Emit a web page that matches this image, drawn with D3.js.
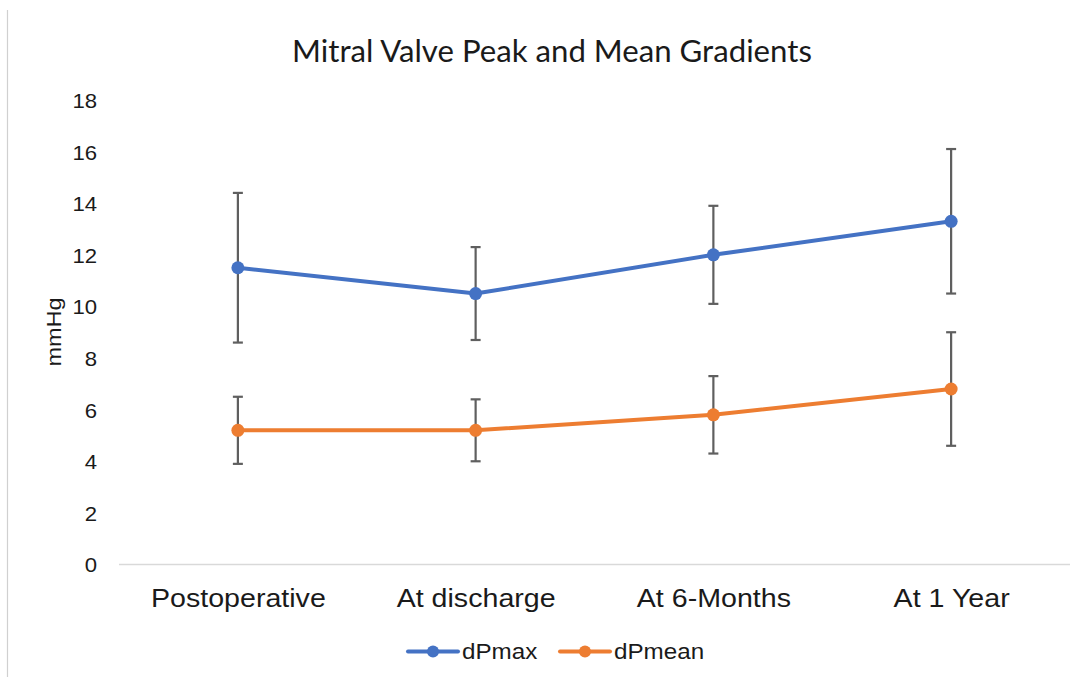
<!DOCTYPE html>
<html>
<head>
<meta charset="utf-8">
<script src="https://cdn.jsdelivr.net/npm/d3@7"></script>
<style>
  html, body { margin: 0; padding: 0; background: #fff; }
  svg { display: block; }
</style>
</head>
<body>
<svg id="chart" width="1083" height="677"></svg>
<script>
// ---- Data ----
const categories = ["Postoperative", "At discharge", "At 6-Months", "At 1 Year"];
const dPmax = [11.5, 10.5, 12.0, 13.3];
const dPmaxErr = [2.9, 1.8, 1.9, 2.8];
const dPmean = [5.2, 5.2, 5.8, 6.8];
const dPmeanErr = [1.3, 1.2, 1.5, 2.2];
const yTicks = [0, 2, 4, 6, 8, 10, 12, 14, 16, 18];
const seriesNames = ["dPmax", "dPmean"];
const titleText = "Mitral Valve Peak and Mean Gradients";
const yAxisLabel = "mmHg";

// ---- Layout ----
const W = 1083, H = 677;
const plot = { left: 119, right: 1070, top: 100, bottom: 564.5 };
const colors = ["#4472C4", "#ED7D31"];
const errColor = "#5f5f5f";
const ARIAL = "'Liberation Sans', Arial, sans-serif";

function stretch(sel, k) {
  sel.each(function() {
    const w = this.getComputedTextLength();
    d3.select(this).attr("textLength", w * k).attr("lengthAdjust", "spacingAndGlyphs");
  });
}

const svg = d3.select("#chart");
svg.append("rect").attr("width", W).attr("height", H).attr("fill", "#fff");

// left border
svg.append("line").attr("x1", 7.5).attr("x2", 7.5).attr("y1", 10).attr("y2", H)
  .attr("stroke", "#d0d0d0").attr("stroke-width", 1.2);

const x = d3.scalePoint().domain(categories).range([plot.left, plot.right]).padding(0.5);
const y = d3.scaleLinear().domain([0, 18]).range([plot.bottom, plot.top]);

// Title
const title = svg.append("text")
  .attr("font-family", "Lato, 'Open Sans', sans-serif")
  .attr("font-size", 27)
  .attr("fill", "#1a1a1a")
  .attr("text-anchor", "middle")
  .attr("x", 552).attr("y", 62)
  .text(titleText);
{
  const w = title.node().getComputedTextLength();
  title.attr("font-size", 27 * 520 / w);
}

// Y axis (labels only)
const yAxis = d3.axisLeft(y).tickValues(yTicks).tickSize(0).tickPadding(0);
const yg = svg.append("g").attr("transform", `translate(97,0)`).call(yAxis);
yg.select(".domain").remove();
yg.selectAll("text")
  .attr("font-family", ARIAL)
  .attr("font-size", 20.5)
  .attr("fill", "#1a1a1a")
  .attr("x", 0)
  .attr("dy", "0.36em");
stretch(yg.selectAll("text"), 1.08);

// X axis
const xAxis = d3.axisBottom(x).tickSize(0).tickPadding(0);
const xg = svg.append("g").attr("transform", `translate(0,${plot.bottom})`).call(xAxis);
xg.select(".domain").attr("stroke", "#d9d9d9").attr("stroke-width", 1.5)
  .attr("d", `M${plot.left},0H${plot.right}`);
xg.selectAll("text")
  .attr("font-family", ARIAL)
  .attr("font-size", 26)
  .attr("fill", "#1a1a1a")
  .attr("y", 42)
  .attr("dy", 0);
stretch(xg.selectAll("text"), 1.1);

// Y axis title
svg.append("text")
  .attr("font-family", ARIAL)
  .attr("font-size", 21)
  .attr("fill", "#1a1a1a")
  .attr("text-anchor", "middle")
  .attr("transform", "translate(61,332) rotate(-90)")
  .text(yAxisLabel)
  .call(stretch, 1.12);

const series = [
  { name: seriesNames[0], values: dPmax, err: dPmaxErr, color: colors[0] },
  { name: seriesNames[1], values: dPmean, err: dPmeanErr, color: colors[1] }
];

// Error bars
const capW = 5;
series.forEach(s => {
  const g = svg.append("g").attr("stroke", errColor).attr("stroke-width", 2.2).attr("fill", "none");
  categories.forEach((c, i) => {
    const cx = x(c);
    const hi = y(s.values[i] + s.err[i]);
    const lo = y(s.values[i] - s.err[i]);
    g.append("line").attr("x1", cx).attr("x2", cx).attr("y1", hi).attr("y2", lo);
    g.append("line").attr("x1", cx - capW).attr("x2", cx + capW).attr("y1", hi).attr("y2", hi);
    g.append("line").attr("x1", cx - capW).attr("x2", cx + capW).attr("y1", lo).attr("y2", lo);
  });
});

// Lines and markers
const line = d3.line().x((d, i) => x(categories[i])).y(d => y(d));
series.forEach(s => {
  svg.append("path").datum(s.values)
    .attr("d", line)
    .attr("fill", "none")
    .attr("stroke", s.color)
    .attr("stroke-width", 4)
    .attr("stroke-linejoin", "round")
    .attr("stroke-linecap", "round");
  svg.append("g").selectAll("circle").data(s.values).join("circle")
    .attr("cx", (d, i) => x(categories[i]))
    .attr("cy", d => y(d))
    .attr("r", 6.5)
    .attr("fill", s.color);
});

// Legend
const legendItems = [
  { name: seriesNames[0], color: colors[0], x0: 408 },
  { name: seriesNames[1], color: colors[1], x0: 560 }
];
const ly = 651.5;
legendItems.forEach(l => {
  const g = svg.append("g");
  g.append("line").attr("x1", l.x0).attr("x2", l.x0 + 50).attr("y1", ly).attr("y2", ly)
    .attr("stroke", l.color).attr("stroke-width", 4).attr("stroke-linecap", "round");
  g.append("circle").attr("cx", l.x0 + 25).attr("cy", ly).attr("r", 6).attr("fill", l.color);
  g.append("text")
    .attr("font-family", ARIAL)
    .attr("font-size", 22)
    .attr("fill", "#1a1a1a")
    .attr("x", l.x0 + 54).attr("y", ly + 7.5)
    .text(l.name)
    .call(stretch, 1.1);
});
</script>
</body>
</html>
